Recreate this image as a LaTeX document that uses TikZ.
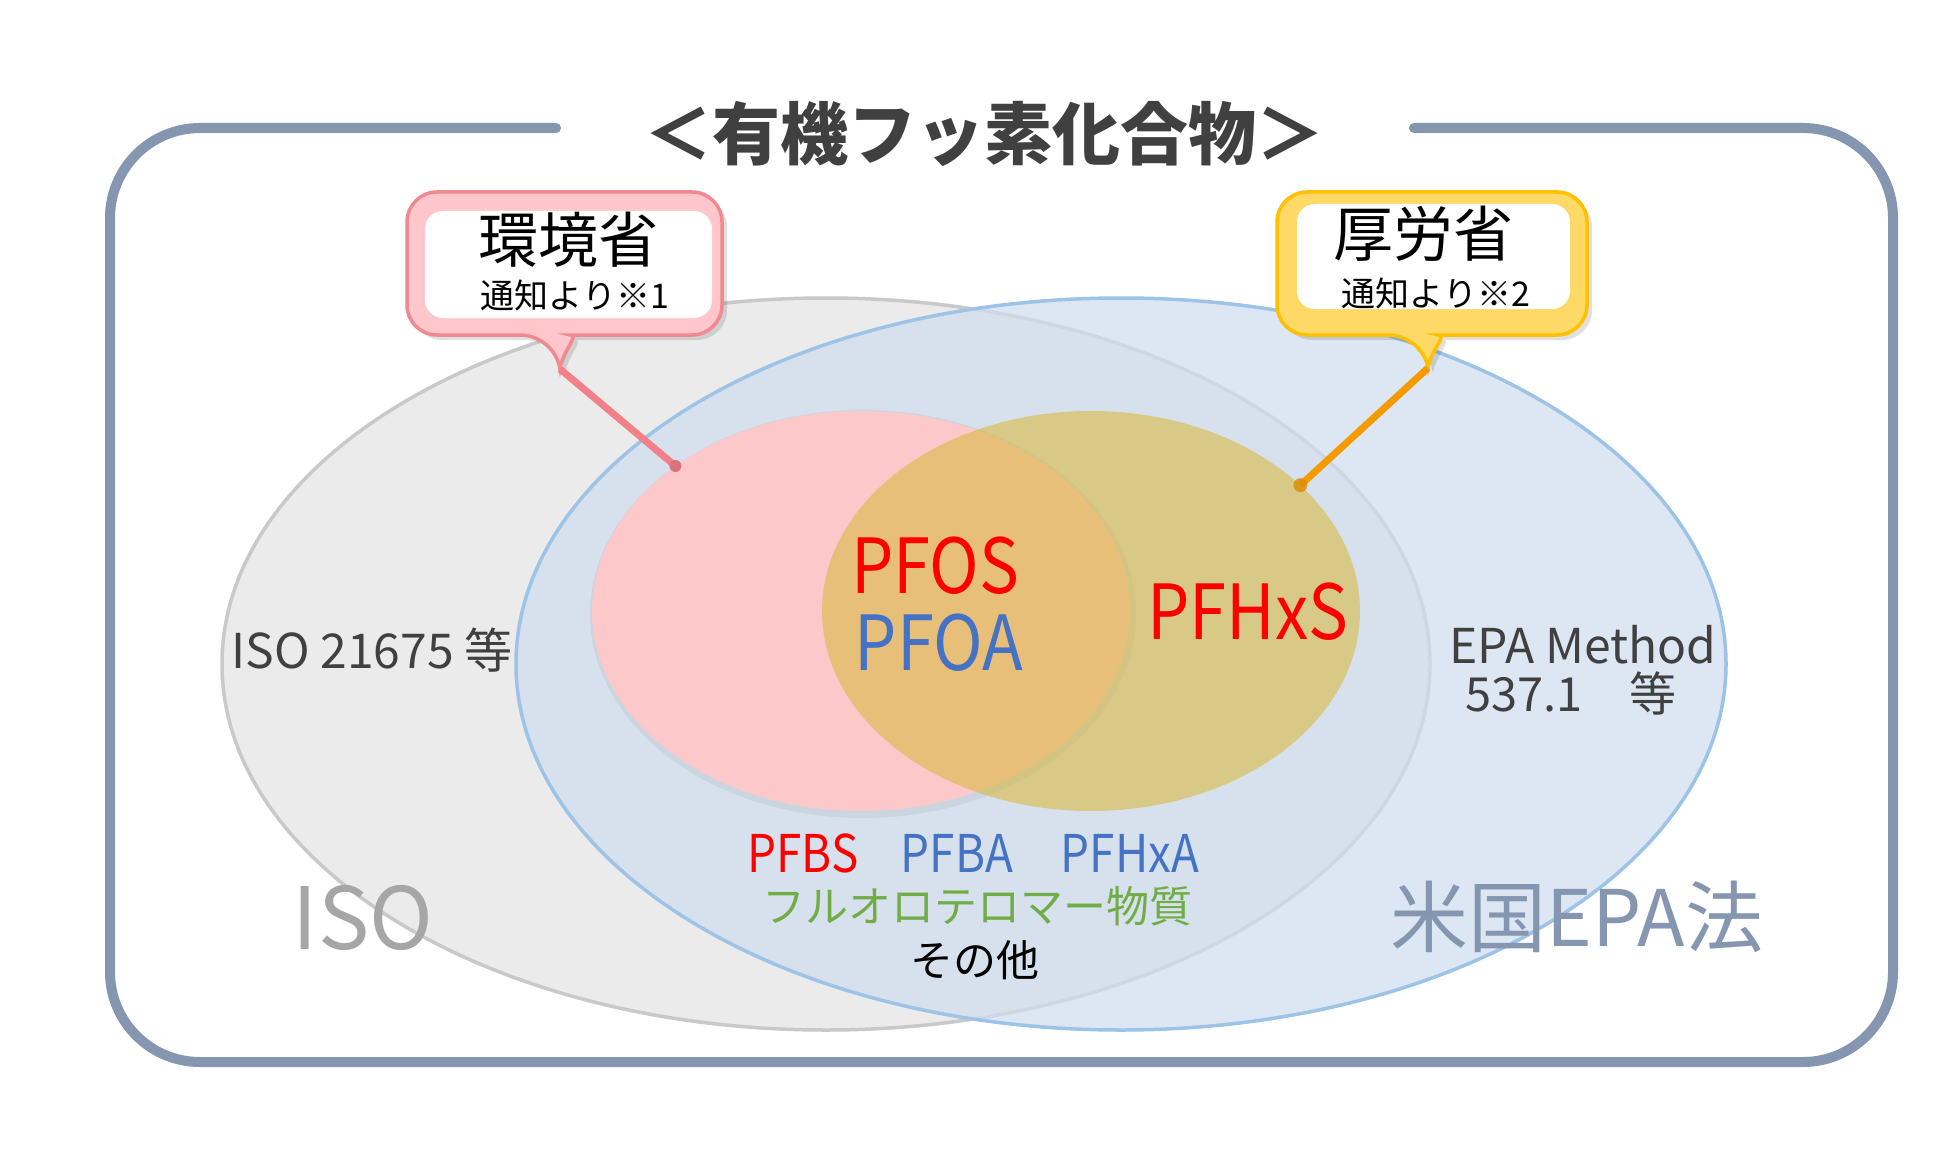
\documentclass[tikz,border=0pt]{standalone}
\usepackage{fontspec}
\setmainfont{Noto Sans CJK JP}
\newfontfamily\jpn[FakeStretch=0.88]{Noto Sans CJK JP}
\newcommand\fsz[1]{\fontsize{#1}{#1}\selectfont}
\usetikzlibrary{shapes.geometric}
\definecolor{cframe}{HTML}{8597B0}
\definecolor{cgrayfill}{HTML}{EBEBEB}
\definecolor{cgrayline}{HTML}{C9C9C9}
\definecolor{cbluefill}{HTML}{CEDEEF}
\definecolor{cblueline}{HTML}{9DC3E6}
\definecolor{cpink}{HTML}{FDC8CA}
\definecolor{cgold}{HTML}{DBBA44}
\definecolor{cpinkbox}{HTML}{FFC7CB}
\definecolor{cpinkedge}{HTML}{F08A90}
\definecolor{cpinkline}{HTML}{F28088}
\definecolor{cgoldbox}{HTML}{FFD966}
\definecolor{cgoldedge}{HTML}{FFC000}
\definecolor{corange}{HTML}{F59B00}
\definecolor{cred}{HTML}{FF0000}
\definecolor{cbluetxt}{HTML}{4472C4}
\definecolor{cgreen}{HTML}{70AD47}
\definecolor{cdark}{HTML}{404040}
\definecolor{cbig}{HTML}{A6A6A6}
\begin{document}
\begin{tikzpicture}[x=1pt,y=-1pt,
  txt/.style={inner sep=0pt, anchor=center},
  setell/.style={ellipse, inner sep=0pt},
  callshadow/.style={fill=black, fill opacity=0.12, draw=none},
  innerwhite/.style={fill=white, draw=none, rounded corners=18pt},
  pinkconn/.style={draw=cpinkline, line width=7pt},
  goldconn/.style={draw=corange, line width=7pt}]
\useasboundingbox[fill=white] (0,0) rectangle (1950,1150);

% outer frame
\draw[cframe, line width=10pt, rounded corners=90pt, line cap=round]
  (556,128) -- (110,128) -- (110,1062) -- (1893,1062) -- (1893,128) -- (1414,128);

% title
\node[txt, text=cdark, font=\fsz{68}\bfseries] (title) at (984,134) {＜有機フッ素化合物＞};

% set ellipses
\node[setell, fill=cgrayfill, draw=cgrayline, line width=3.5pt,
      minimum width=1208pt, minimum height=732pt] (iso) at (826,664) {};
\node[setell, fill=cbluefill, fill opacity=0.7, draw=cblueline, draw opacity=1, line width=3.5pt,
      minimum width=1210pt, minimum height=732pt] (epa) at (1121,664) {};
\node[setell, fill=black, fill opacity=0.05, minimum width=546pt, minimum height=408pt] (pinkshadow) at (863,614) {};
\node[setell, fill=cpink, minimum width=538pt, minimum height=400pt] (pink) at (861,611) {};
\node[setell, fill=cgold, fill opacity=0.6, minimum width=538pt, minimum height=400pt] (gold) at (1091,611) {};

% callout 1 (pink)
\path[callshadow] (569,197) [rounded corners=30pt] -- (727,197) -- (727,340) -- (605,340) [sharp corners]
  .. controls (585,340) and (568,355) .. (565,374) .. controls (562,355) and (545,340) .. (525,340)
  [rounded corners=30pt] -- (412,340) -- (412,197) -- cycle;
\path[fill=cpinkbox, draw=cpinkedge, line width=3.5pt] (564,192) [rounded corners=30pt] -- (722,192) -- (722,335) -- (600,335) [sharp corners]
  .. controls (580,335) and (563,350) .. (560,369) .. controls (557,350) and (540,335) .. (520,335)
  [rounded corners=30pt] -- (407,335) -- (407,192) -- cycle;
\coordinate (tip1) at (560,369);
\path[innerwhite] (425,211) rectangle (712,318);
\node[txt, font=\fsz{60}] (kankyo) at (568,240) {環境省};
\node[txt, font=\fsz{34}] (note1) at (575,296) {通知より※1};

% callout 2 (gold)
\path[callshadow] (1437,197) [rounded corners=30pt] -- (1592,197) -- (1592,340) -- (1473,340) [sharp corners]
  .. controls (1453,340) and (1436,355) .. (1433,373) .. controls (1430,355) and (1413,340) .. (1393,340)
  [rounded corners=30pt] -- (1282,340) -- (1282,197) -- cycle;
\path[fill=cgoldbox, draw=cgoldedge, line width=3.5pt] (1432,192) [rounded corners=30pt] -- (1587,192) -- (1587,335) -- (1468,335) [sharp corners]
  .. controls (1448,335) and (1431,350) .. (1428,368) .. controls (1425,350) and (1408,335) .. (1388,335)
  [rounded corners=30pt] -- (1277,335) -- (1277,192) -- cycle;
\coordinate (tip2) at (1428,368);
\path[innerwhite] (1297,204) rectangle (1570,309);
\node[txt, font=\fsz{60}] (kourou) at (1423,234) {厚労省};
\node[txt, font=\fsz{34}] (note2) at (1436,294) {通知より※2};

% connectors
\draw[pinkconn] (tip1) -- (pink.142);
\fill[cpinkline!90!black] (pink.142) circle (6pt);
\draw[goldconn] (tip2) -- (gold.31);
\fill[corange!90!black, opacity=0.8] (gold.31) circle (7pt);

% inner texts
\node[txt, text=cred, font=\jpn\fsz{76}] (pfos) at (935,566) {PFOS};
\node[txt, text=cbluetxt, font=\jpn\fsz{76}] (pfoa) at (939,643) {PFOA};
\node[txt, text=cred, font=\jpn\fsz{76}] (pfhxs) at (1248,612) {PFHxS};

\node[txt, text=cred, font=\jpn\fsz{52}] (pfbs) at (803,853) {PFBS};
\node[txt, text=cbluetxt, font=\jpn\fsz{52}] (pfba) at (957,853) {PFBA};
\node[txt, text=cbluetxt, font=\jpn\fsz{52}] (pfhxa) at (1130,853) {PFHxA};
\node[txt, text=cgreen, font=\fsz{43}] (fluoro) at (977,906) {フルオロテロマー物質};
\node[txt, text=black, font=\fsz{43}] (sonota) at (975,960) {その他};

\node[txt, text=cdark, font=\fsz{48}] (isomethod) at (372,650) {ISO 21675 等};
\node[txt, text=cdark, font=\fsz{48}] (epamethod) at (1583,645) {EPA Method};
\node[txt, text=cdark, font=\fsz{47}] (epanum) at (1571,693) {537.1　等};

\node[txt, text=cbig, font=\fsz{86}] (isobig) at (363,918) {ISO};
\node[txt, text=cframe, font=\fsz{78}] (epabig) at (1577,917) {米国EPA法};
\end{tikzpicture}
\end{document}
